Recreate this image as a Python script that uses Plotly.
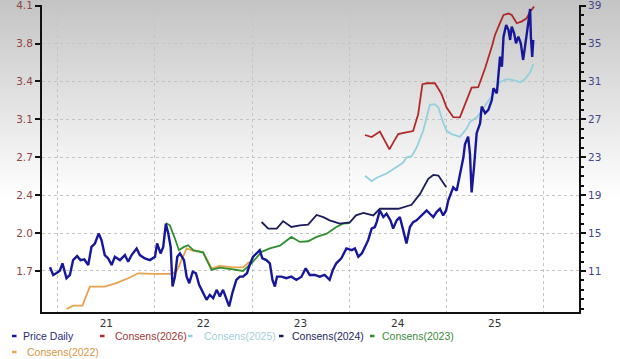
import base64
import plotly.graph_objects as go

# ---------------- data ----------------
price_dates = ["2020-12-02","2020-12-14","2020-12-27","2021-01-08","2021-01-18","2021-02-02","2021-02-15","2021-02-27","2021-03-14","2021-03-27","2021-04-10","2021-04-25","2021-05-07","2021-05-20","2021-06-03","2021-06-14","2021-06-26","2021-07-09","2021-07-22","2021-08-03","2021-08-22","2021-09-10","2021-09-22","2021-10-05","2021-10-24","2021-11-05","2021-11-24","2021-12-13","2022-01-01","2022-01-09","2022-01-22","2022-02-01","2022-02-11","2022-02-20","2022-03-01","2022-03-08","2022-03-17","2022-03-26","2022-04-05","2022-04-20","2022-04-30","2022-05-10","2022-05-23","2022-06-04","2022-06-16","2022-07-01","2022-07-14","2022-07-26","2022-08-08","2022-08-21","2022-09-02","2022-09-14","2022-09-27","2022-10-07","2022-10-19","2022-11-03","2022-11-16","2022-11-28","2022-12-13","2022-12-23","2023-01-05","2023-01-18","2023-01-30","2023-02-09","2023-02-24","2023-03-09","2023-03-19","2023-03-28","2023-04-05","2023-04-22","2023-05-10","2023-05-29","2023-06-17","2023-07-06","2023-07-22","2023-08-06","2023-08-25","2023-09-13","2023-10-01","2023-10-20","2023-11-01","2023-11-14","2023-12-03","2023-12-22","2024-01-11","2024-01-23","2024-02-05","2024-02-18","2024-03-01","2024-03-13","2024-03-26","2024-04-07","2024-04-14","2024-04-26","2024-05-09","2024-05-21","2024-06-05","2024-06-15","2024-06-28","2024-07-10","2024-07-23","2024-08-04","2024-08-17","2024-08-29","2024-09-11","2024-09-30","2024-10-19","2024-10-31","2024-11-13","2024-11-25","2024-12-08","2024-12-20","2024-12-31","2025-01-08","2025-01-17","2025-01-27","2025-02-09","2025-02-21","2025-03-06","2025-03-12","2025-03-24","2025-03-31","2025-04-06","2025-04-15","2025-04-25","2025-05-08","2025-05-14","2025-05-27","2025-06-08","2025-06-21","2025-06-27","2025-07-10","2025-07-16","2025-07-22","2025-07-29","2025-08-04","2025-08-14","2025-08-23","2025-08-29","2025-09-04","2025-09-13","2025-09-20","2025-09-29","2025-10-08","2025-10-17","2025-10-24","2025-10-30","2025-11-05","2025-11-12","2025-11-15","2025-11-20","2025-11-24"]
price_vals = [11.39,10.58,10.79,11.03,11.81,10.24,10.58,12.15,12.57,12.15,12.22,11.63,13.54,13.90,14.95,14.25,12.68,12.33,11.63,12.50,12.15,12.68,11.97,12.68,13.38,12.68,12.33,12.15,12.50,13.90,12.85,13.54,15.99,14.95,13.54,9.36,10.40,12.50,12.85,12.15,10.40,9.71,10.93,10.76,9.53,8.67,7.96,8.49,8.14,9.01,8.31,9.01,7.96,7.26,8.67,10.06,10.40,10.40,10.76,11.63,12.50,12.85,13.20,12.33,12.15,11.81,10.06,9.36,10.40,10.40,10.24,10.40,10.06,10.40,11.28,10.58,10.58,10.40,10.58,10.06,11.10,11.81,12.33,13.38,13.20,13.38,12.50,12.85,13.54,14.25,15.47,15.64,16.16,17.39,16.69,17.04,16.34,15.47,16.34,16.69,15.29,13.90,15.64,16.16,16.34,16.86,17.39,17.04,16.69,17.21,17.56,16.86,17.39,18.43,19.14,19.83,19.48,21.05,22.97,24.37,25.17,23.32,19.30,21.92,25.54,26.58,28.34,27.64,28.00,29.04,30.28,29.76,31.87,33.62,32.56,35.73,36.97,36.43,35.38,36.78,36.09,35.03,35.73,35.03,33.27,34.67,35.38,37.14,38.65,35.73,33.60,35.38]

c2026_dates = ["2024-03-01","2024-03-26","2024-04-26","2024-05-15","2024-06-01","2024-06-15","2024-07-04","2024-07-29","2024-08-29","2024-09-17","2024-10-03","2024-10-20","2024-11-19","2024-12-02","2024-12-14","2025-01-02","2025-01-27","2025-02-21","2025-03-18","2025-04-06","2025-05-01","2025-05-27","2025-06-21","2025-07-03","2025-07-22","2025-08-04","2025-08-23","2025-09-04","2025-09-23","2025-10-12","2025-10-30","2025-11-12","2025-11-27"]
c2026_vals = [2.930,2.912,2.961,2.876,2.800,2.861,2.939,2.952,2.966,3.118,3.390,3.398,3.398,3.348,3.300,3.178,3.091,3.089,3.247,3.358,3.362,3.536,3.729,3.835,3.944,4.016,4.029,4.016,3.941,3.958,3.986,4.045,4.091]

c2025_dates = ["2024-03-01","2024-03-26","2024-04-14","2024-05-21","2024-06-22","2024-07-23","2024-08-04","2024-08-23","2024-09-11","2024-10-06","2024-10-31","2024-11-19","2024-12-02","2024-12-20","2025-01-02","2025-01-21","2025-02-21","2025-03-18","2025-03-31","2025-04-25","2025-05-14","2025-06-08","2025-07-03","2025-07-22","2025-08-16","2025-09-16","2025-10-05","2025-10-24","2025-11-12","2025-11-24"]
c2025_vals = [2.562,2.512,2.544,2.582,2.631,2.681,2.728,2.737,2.816,2.968,3.203,3.209,3.179,3.043,2.968,2.938,2.914,2.986,3.049,3.088,3.149,3.240,3.314,3.411,3.436,3.425,3.405,3.436,3.496,3.571]

c2024_dates = ["2023-02-06","2023-03-03","2023-04-04","2023-04-28","2023-05-29","2023-06-30","2023-07-31","2023-09-01","2023-09-26","2023-10-20","2023-11-27","2024-01-04","2024-01-27","2024-02-24","2024-04-01","2024-04-26","2024-07-04","2024-08-23","2024-09-24","2024-10-25","2024-11-13","2024-12-02","2024-12-31"]
c2024_vals = [2.143,2.083,2.083,2.151,2.098,2.113,2.119,2.207,2.187,2.158,2.128,2.140,2.203,2.225,2.203,2.263,2.263,2.299,2.397,2.533,2.569,2.563,2.459]

c2023_dates = ["2022-02-11","2022-02-26","2022-03-17","2022-04-01","2022-04-20","2022-05-06","2022-05-25","2022-07-01","2022-08-02","2022-09-02","2022-10-21","2022-11-28","2022-12-30","2023-02-06","2023-03-09","2023-04-16","2023-05-29","2023-06-30","2023-07-31","2023-09-01","2023-10-09","2023-11-14","2023-12-09","2024-01-04"]
c2023_vals = [2.134,2.113,1.994,1.888,1.918,1.933,1.888,1.866,1.709,1.730,1.715,1.700,1.769,1.873,1.904,1.929,2.008,1.963,1.969,2.008,2.038,2.098,2.128,2.134]

c2022_dates = ["2021-02-02","2021-02-27","2021-04-03","2021-05-01","2021-06-26","2021-08-09","2021-09-22","2021-10-30","2021-12-25","2022-03-04","2022-03-23","2022-04-11","2022-04-30","2022-05-25","2022-07-01","2022-08-02","2022-09-02","2022-10-21","2022-11-28","2022-12-23"]
c2022_vals = [1.356,1.386,1.386,1.559,1.559,1.590,1.634,1.679,1.673,1.673,1.694,1.799,1.904,1.882,1.873,1.724,1.745,1.733,1.733,1.783]

year_labels = ["21", "22", "23", "24", "25"]
label_dates = ["2021-07-02", "2022-07-02", "2023-07-02", "2024-07-02", "2025-07-02"]
year_starts = ["2021-01-01", "2022-01-01", "2023-01-01", "2024-01-01", "2025-01-01", "2026-01-01"]
eps_tick_vals = [1.7 + k * 0.342857 for k in range(8)]
eps_tick_text = ["1.7", "2.0", "2.4", "2.7", "3.1", "3.4", "3.8", "4.1"]
price_tick_vals = [11, 15, 19, 23, 27, 31, 35, 39]

# ---------------- styling ----------------
W, H = 620, 359
ML, MR, MT, MB = 42, 41, 5, 47
PW, PH = W - ML - MR, H - MT - MB

series = [
    ("Consens(2022)", c2022_dates, c2022_vals, "#e6a24f"),
    ("Consens(2023)", c2023_dates, c2023_vals, "#2f8f2f"),
    ("Consens(2024)", c2024_dates, c2024_vals, "#1c1c5c"),
    ("Consens(2025)", c2025_dates, c2025_vals, "#93d0de"),
    ("Consens(2026)", c2026_dates, c2026_vals, "#b02a2a"),
]

fig = go.Figure()
for name, d, v, col in series:
    fig.add_trace(go.Scatter(x=d, y=v, mode="lines", name=name, yaxis="y",
                             line=dict(color=col, width=1.8), showlegend=False))
fig.add_trace(go.Scatter(x=price_dates, y=price_vals, mode="lines", name="Price Daily",
                         yaxis="y2", line=dict(color="#17179a", width=2.4), showlegend=False))

# gradient background as an SVG image
svg = ("<svg xmlns='http://www.w3.org/2000/svg' width='620' height='359' preserveAspectRatio='none'>"
       "<defs><linearGradient id='g' x1='0' y1='0' x2='0' y2='1'>"
       "<stop offset='0' stop-color='#c4c4c4'/><stop offset='0.55' stop-color='#ffffff'/>"
       "<stop offset='1' stop-color='#ffffff'/></linearGradient></defs>"
       "<rect width='620' height='359' fill='url(#g)'/></svg>")
src = "data:image/svg+xml;base64," + base64.b64encode(svg.encode()).decode()

def px_x(px):
    return (px - ML) / PW

def px_y(py):
    return (H - MB - py) / PH

fig.add_layout_image(dict(source=src, xref="paper", yref="paper", x=px_x(0), y=px_y(0),
                          sizex=W / PW, sizey=H / PH, sizing="stretch",
                          xanchor="left", yanchor="top", layer="below"))

# custom legend: (name, line colour, text colour, dash x, text x, row y)
legend_items = [
    ("Price Daily", "#17179a", "#2a2a80", 12, 22, 336),
    ("Consens(2026)", "#b02a2a", "#a03838", 100, 114, 336),
    ("Consens(2025)", "#93d0de", "#a6cfdb", 188, 203, 336),
    ("Consens(2024)", "#1c1c5c", "#25255e", 279, 291, 336),
    ("Consens(2023)", "#2f8f2f", "#3d8a3d", 370, 381, 336),
    ("Consens(2022)", "#e6a24f", "#d9953f", 12, 26, 352),
]
for name, col, tcol, lx, tx, ly in legend_items:
    fig.add_shape(type="line", xref="paper", yref="paper",
                  x0=px_x(lx), x1=px_x(lx + 4.5), y0=px_y(ly), y1=px_y(ly),
                  line=dict(color=col, width=2.5))
    fig.add_annotation(xref="paper", yref="paper", x=px_x(tx), y=px_y(ly),
                       xanchor="left", yanchor="middle", showarrow=False, text=name,
                       xshift=-1,
                       font=dict(family="Liberation Sans, Arial", size=10.5, color=tcol))

fig.update_layout(
    width=W, height=H,
    margin=dict(l=ML, r=MR, t=MT, b=MB, autoexpand=False),
    paper_bgcolor="white", plot_bgcolor="rgba(0,0,0,0)",
    showlegend=False,
    xaxis=dict(type="date", range=["2020-11-02", "2026-05-15"], automargin=False,
               tickmode="array", tickvals=label_dates, ticktext=year_labels,
               showgrid=False, ticks="", zeroline=False,
               showline=True, linecolor="#111", linewidth=2,
               tickfont=dict(family="DejaVu Sans", size=10.5, color="#333"),
               minor=dict(tickmode="array", tickvals=year_starts, showgrid=True,
                          gridcolor="#c4c4c4", griddash="dot", gridwidth=1, ticks="")),
    yaxis=dict(range=[1.329, 4.106], tickmode="array", tickvals=eps_tick_vals, automargin=False,
               ticktext=eps_tick_text, showgrid=True, gridcolor="#c4c4c4", griddash="dot",
               zeroline=False, showline=True, linecolor="#111", linewidth=2,
               ticks="outside", ticklen=5, tickcolor="#111", tickwidth=1.5,
               ticklabeloverflow="allow",
               tickfont=dict(family="DejaVu Sans", size=10.5, color="#8e4545")),
    yaxis2=dict(overlaying="y", side="right", automargin=False,
                range=[(1.329 - 0.757143) / 0.0857143, (4.106 - 0.757143) / 0.0857143],
                tickmode="array", tickvals=price_tick_vals, showgrid=False, zeroline=False,
                showline=True, linecolor="#111", linewidth=2,
                ticks="outside", ticklen=5, tickcolor="#111", tickwidth=1.5,
                ticklabeloverflow="allow",
                minor=dict(dtick=1, ticks="outside", ticklen=3, tickcolor="#111", showgrid=False),
                tickfont=dict(family="DejaVu Sans", size=10.5, color="#45458e")),
)

fig.write_html("out.html", config={"displayModeBar": False},
               post_script="document.body.style.margin='0';document.body.style.overflow='hidden';")
